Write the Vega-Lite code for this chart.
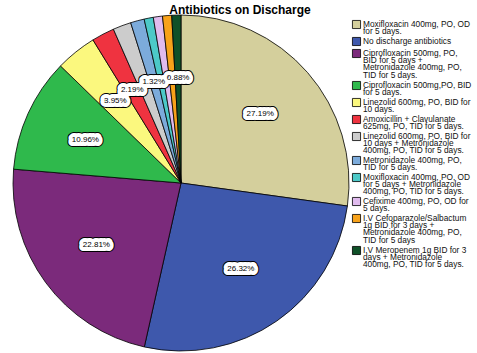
{
  "$schema": "https://vega.github.io/schema/vega-lite/v6.json",
  "width": 362,
  "height": 330,
  "autosize": {"type": "none"},
  "padding": {"left": 0, "top": 18, "right": 115, "bottom": 5},
  "background": "white",
  "config": {"font": "Liberation Sans", "view": {"stroke": null}},
  "title": {"text": "Antibiotics on Discharge", "fontSize": 12, "fontWeight": "bold", "font": "Liberation Sans", "color": "black", "anchor": "middle", "frame": "bounds", "dy": 8, "dx": 4},
  "data": {"values": [
    {"idx": 1, "name": "Moxifloxacin 400mg, PO, OD|for 5 days.", "pct": 27.19, "label": "27.19%"},
    {"idx": 2, "name": "No discharge antibiotics", "pct": 26.32, "label": "26.32%"},
    {"idx": 3, "name": "Ciprofloxacin 500mg, PO,|BID for 5 days +|Metronidazole 400mg, PO,|TID for 5 days.", "pct": 22.81, "label": "22.81%"},
    {"idx": 4, "name": "Ciprofloxacin 500mg,PO, BID|for 5 days.", "pct": 10.96, "label": "10.96%"},
    {"idx": 5, "name": "Linezolid 600mg, PO, BID for|10 days.", "pct": 3.95, "label": "3.95%"},
    {"idx": 6, "name": "Amoxicillin + Clavulanate|625mg, PO, TID for 5 days.", "pct": 2.19, "label": "2.19%"},
    {"idx": 7, "name": "Linezolid 600mg, PO, BID for|10 days + Metronidazole|400mg, PO, TID for 5 days.", "pct": 1.75, "label": ""},
    {"idx": 8, "name": "Metronidazole 400mg, PO,|TID for 5 days.", "pct": 1.32, "label": "1.32%"},
    {"idx": 9, "name": "Moxifloxacin 400mg, PO, OD|for 5 days + Metronidazole|400mg, PO, TID for 5 days.", "pct": 0.88, "label": ""},
    {"idx": 10, "name": "Cefixime 400mg, PO, OD for|5 days.", "pct": 0.88, "label": ""},
    {"idx": 11, "name": "I.V Cefoparazole/Salbactum|1g BID for 3 days +|Metronidazole 400mg, PO,|TID for 5 days", "pct": 0.88, "label": ""},
    {"idx": 12, "name": "I.V Meropenem 1g BID for 3|days + Metronidazole|400mg, PO, TID for 5 days.", "pct": 0.88, "label": "0.88%"}
  ]},
  "encoding": {
    "theta": {"field": "pct", "type": "quantitative", "stack": true},
    "order": {"field": "idx", "type": "quantitative"},
    "detail": {"field": "name", "type": "nominal"}
  },
  "layer": [
    {
      "mark": {"type": "arc", "outerRadius": 168, "stroke": "black", "strokeWidth": 0.8},
      "encoding": {
        "color": {
          "field": "name", "type": "nominal",
          "scale": {
            "domain": [
              "Moxifloxacin 400mg, PO, OD|for 5 days.",
              "No discharge antibiotics",
              "Ciprofloxacin 500mg, PO,|BID for 5 days +|Metronidazole 400mg, PO,|TID for 5 days.",
              "Ciprofloxacin 500mg,PO, BID|for 5 days.",
              "Linezolid 600mg, PO, BID for|10 days.",
              "Amoxicillin + Clavulanate|625mg, PO, TID for 5 days.",
              "Linezolid 600mg, PO, BID for|10 days + Metronidazole|400mg, PO, TID for 5 days.",
              "Metronidazole 400mg, PO,|TID for 5 days.",
              "Moxifloxacin 400mg, PO, OD|for 5 days + Metronidazole|400mg, PO, TID for 5 days.",
              "Cefixime 400mg, PO, OD for|5 days.",
              "I.V Cefoparazole/Salbactum|1g BID for 3 days +|Metronidazole 400mg, PO,|TID for 5 days",
              "I.V Meropenem 1g BID for 3|days + Metronidazole|400mg, PO, TID for 5 days."
            ],
            "range": ["#D4CF9C", "#3E58AC", "#7B2A7B", "#2FB94C", "#FBF87E", "#EF3340", "#CCCCCC", "#7CABDB", "#4CC9C8", "#E0BBEE", "#F7A21A", "#0F5028"]
          },
          "legend": {
            "orient": "none", "legendX": 352, "legendY": 2, "title": null, "padding": 0,
            "symbolType": "square", "symbolSize": 66, "symbolStrokeColor": "black", "symbolStrokeWidth": 0.8, "symbolOpacity": 1,
            "labelFontSize": 8.3, "labelFont": "Liberation Sans", "labelColor": "#111111", "labelLimit": 200, "labelOffset": 2,
            "rowPadding": -1,
            "labelExpr": "split(datum.label, '|')",
            "encode": {"labels": {"update": {"lineHeight": {"value": 7.4}, "fill": {"value": "#111111"}, "opacity": {"value": 1}, "fontSize": {"value": 8.3}, "font": {"value": "Liberation Sans"}}}}
          }
        }
      }
    },
    {
      "mark": {"type": "text", "radius": 105, "fontSize": 8, "font": "Liberation Sans", "fill": "black", "stroke": "black", "strokeWidth": 10, "strokeJoin": "round"},
      "encoding": {"text": {"field": "label"}}
    },
    {
      "mark": {"type": "text", "radius": 105, "fontSize": 8, "font": "Liberation Sans", "fill": "white", "stroke": "white", "strokeWidth": 8, "strokeJoin": "round"},
      "encoding": {"text": {"field": "label"}}
    },
    {
      "mark": {"type": "text", "radius": 105, "fontSize": 8, "font": "Liberation Sans", "fill": "black"},
      "encoding": {"text": {"field": "label"}}
    }
  ]
}
